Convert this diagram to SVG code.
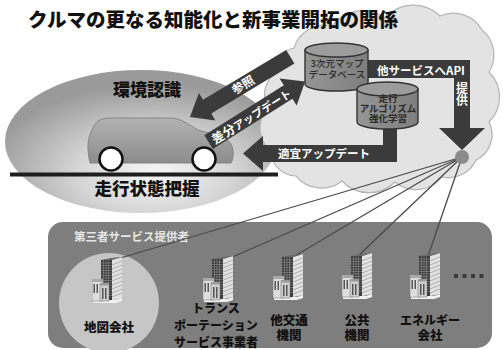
<svg xmlns="http://www.w3.org/2000/svg" width="503" height="350" viewBox="0 0 503 350">
  <defs>
    <style>
      text { font-family: "Noto Sans CJK JP", "Noto Sans CJK SC", sans-serif; }
      .title { font-size: 19.5px; font-weight: 900; fill: #111; }
      .big { font-size: 17px; font-weight: 900; fill: #111; text-anchor: middle; }
      .band { fill: #3b3b3b; }
      .bandtxt { font-size: 11.5px; font-weight: 700; fill: #fff; text-anchor: middle; }
      .cyl { fill: url(#cylBody); stroke: #333; stroke-width: 1.4; }
      .cyltop { fill: #9c9c9c; stroke: #333; stroke-width: 1.4; }
      .cyltxt { font-size: 9.5px; font-weight: 700; fill: #2a2a2a; text-anchor: middle; }
      .lbl { font-size: 12.5px; font-weight: 900; fill: #111; text-anchor: middle; }
      .link { stroke: #4a4a4a; stroke-width: 1.3; fill: none; }
    </style>
    <radialGradient id="envGrad" cx="0.55" cy="0.72" r="0.62">
      <stop offset="0" stop-color="#f6f6f6"/>
      <stop offset="0.45" stop-color="#d6d6d6"/>
      <stop offset="1" stop-color="#9a9a9a"/>
    </radialGradient>
    <linearGradient id="carGrad" x1="0" y1="0" x2="0" y2="1">
      <stop offset="0" stop-color="#b2b2b2"/>
      <stop offset="1" stop-color="#8c8c8c"/>
    </linearGradient>
    <linearGradient id="cylBody" x1="0" y1="0" x2="1" y2="0">
      <stop offset="0" stop-color="#959595"/>
      <stop offset="1" stop-color="#7e7e7e"/>
    </linearGradient>
    <!-- office building icon: glass tower with a low annex in front -->
    <symbol id="bld" viewBox="0 0 30 46" width="30" height="46">
      <path d="M1,43 L24,43 L30,41 L30,44 L24,46 L1,46 Z" fill="#f0f0f0"/>
      <rect x="9" y="3" width="11" height="40" fill="#3a3a3a"/>
      <g stroke="#8f8f8f" stroke-width="0.6">
        <path d="M9,6H20M9,8.5H20M9,11H20M9,13.5H20M9,16H20M9,18.5H20M9,21H20M9,23.5H20M9,26H20M9,28.5H20M9,31H20M9,33.5H20M9,36H20M9,38.5H20"/>
        <path d="M11.5,3V43M14,3V43M16.5,3V43"/>
      </g>
      <path d="M20,3 L30,0 L30,41 L20,43 Z" fill="#e2e2e2"/>
      <g stroke="#8a8a8a" stroke-width="0.6">
        <path d="M20,8 L30,4 M20,12 L30,8 M20,16 L30,12 M20,20 L30,16 M20,24 L30,20 M20,28 L30,24 M20,32 L30,28 M20,36 L30,32 M20,40 L30,36"/>
      </g>
      <path d="M9,3 L19,1 L30,0 L20,3 Z" fill="#6a6a6a"/>
      <rect x="0" y="23" width="11" height="21" fill="#dedede" stroke="#6e6e6e" stroke-width="0.5"/>
      <rect x="0" y="22" width="11" height="3" fill="#a8a8a8"/>
      <rect x="8" y="27" width="9" height="17" fill="#cfcfcf" stroke="#6e6e6e" stroke-width="0.5"/>
      <rect x="8" y="26" width="9" height="2.5" fill="#9a9a9a"/>
      <g fill="#555">
        <rect x="1.5" y="27" width="1.5" height="9"/>
        <rect x="4.5" y="27" width="1.5" height="9"/>
        <rect x="10" y="31" width="1.5" height="11"/>
        <rect x="13" y="31" width="1.5" height="11"/>
      </g>
    </symbol>
  </defs>

  <rect width="503" height="350" fill="#fff"/>

  <!-- vehicle side: environment recognition zone -->
  <g id="vehicle-zone">
    <ellipse cx="141" cy="141.5" rx="136" ry="71.5" fill="url(#envGrad)"/>
  </g>

  <!-- cloud -->
  <g id="cloud">
    <path d="M294,48 A32,32 0 0 1 332,26 A38,38 0 0 1 385,18 A38,38 0 0 1 440,16 A33,33 0 0 1 482,30 A32,32 0 0 1 489,72 A35,35 0 0 1 489,122 A28,28 0 0 1 476,160 A30,30 0 0 1 442,177 A33,33 0 0 1 395,182 A37,37 0 0 1 342,181 A33,33 0 0 1 296,176 A27,27 0 0 1 270,150 A29,29 0 0 1 268,108 A26,26 0 0 1 278,72 A20,20 0 0 1 294,48 Z" fill="#e3e3e3" stroke="#b4b4b4" stroke-width="1.2"/>
  </g>

  <g id="car">
    <line x1="10" y1="174.5" x2="278" y2="174.5" stroke="#1e1e1e" stroke-width="4"/>
    <path d="M90,163 C87,150 87,138 92,130 C95,122 100,118 110,118 L170,118 C180,118 188,124 198,130 C212,134 226,136 231,144 C234,150 234,158 231,163 Z" fill="url(#carGrad)" stroke="#858585" stroke-width="1"/>
    <circle cx="111" cy="159" r="11.5" fill="#fff" stroke="#111" stroke-width="2.5"/>
    <circle cx="204" cy="159" r="11.5" fill="#fff" stroke="#111" stroke-width="2.5"/>
    <text class="big" x="147" y="96">環境認識</text>
    <text class="big" x="147" y="195" style="font-size:17.5px">走行状態把握</text>
  </g>

  <!-- connectors -->
  <g id="connectors">
    <!-- 参照: map DB to vehicle -->
    <g transform="translate(190,117) rotate(-31)">
      <polygon class="band" points="0,0 20,-16 20,-8 117,-8 117,8 20,8 20,16"/>
      <text class="bandtxt" x="62" y="4.2" style="font-size:12px">参照</text>
    </g>
    <!-- 差分アップデート: vehicle to map DB -->
    <g transform="translate(212,140) rotate(-32.2)">
      <polygon class="band" points="-4,-8 90,-8 90,-16 110,0 90,16 90,8 -4,8"/>
      <text class="bandtxt" x="46" y="5.5"><tspan style="font-size:12.5px">差分</tspan><tspan style="font-size:11px">アップデート</tspan></text>
    </g>
    <!-- 適宜アップデート: algorithm to vehicle -->
    <path class="band" d="M383,120 H397 V162 H263 V171 L243,153.5 L263,136 V145 H383 Z"/>
    <text class="bandtxt" x="324" y="157.5">適宜アップデート</text>
    <!-- API provision to third parties -->
    <path class="band" d="M367,60 H470 V128 H485 L462,150 L439,128 H454 V78 H367 Z"/>
    <text class="bandtxt" x="421" y="74.5">他サービスへAPI</text>
    <text class="bandtxt" x="462" y="94" writing-mode="vertical-rl" style="font-size:12px">提供</text>
  </g>

  <g id="map-db">
    <path class="cyl" d="M305,50 V84 A31.5,7 0 0 0 368,84 V50 Z"/>
    <ellipse class="cyltop" cx="336.5" cy="50" rx="31.5" ry="7"/>
    <text class="cyltxt" style="font-weight:500"><tspan x="337" y="67">3次元マップ</tspan><tspan x="337" y="78">データベース</tspan></text>
  </g>

  <g id="algorithm-db">
    <path class="cyl" d="M357,89 V122 A30.5,7 0 0 0 418,122 V89 Z"/>
    <ellipse class="cyltop" cx="387.5" cy="89" rx="30.5" ry="7"/>
    <text class="cyltxt"><tspan x="388" y="101.5">走行</tspan><tspan x="388" y="111.5">アルゴリズム</tspan><tspan x="388" y="121.5">強化学習</tspan></text>
  </g>

  <!-- third-party service providers -->
  <g id="providers">
    <rect x="48" y="222" width="444" height="126" rx="15" fill="#7e7e7e"/>
    <text x="74" y="240.5" style="font-size:11.5px;font-weight:700;fill:#e8e8e8">第三者サービス提供者</text>
  </g>

  <g id="map-company">
    <circle cx="109" cy="303" r="50" fill="#c6c6c6"/>
  </g>

  <g id="links">
    <line class="link" x1="462" y1="157" x2="117" y2="259"/>
    <line class="link" x1="462" y1="157" x2="230" y2="258"/>
    <line class="link" x1="462" y1="157" x2="293" y2="257"/>
    <line class="link" x1="462" y1="157" x2="358" y2="256"/>
    <line class="link" x1="462" y1="157" x2="428" y2="256"/>
  </g>

  <g id="node-map">
    <use href="#bld" x="92" y="257"/>
    <text class="lbl" x="109" y="332">地図会社</text>
  </g>
  <g id="node-transport">
    <use href="#bld" x="203" y="256"/>
    <text class="lbl" style="font-size:12px"><tspan x="216" y="313">トランス</tspan><tspan x="216" y="330">ポーテーション</tspan><tspan x="216" y="347">サービス事業者</tspan></text>
  </g>
  <g id="node-transit">
    <use href="#bld" x="273" y="254"/>
    <text class="lbl"><tspan x="289" y="324.5">他交通</tspan><tspan x="289" y="339.5">機関</tspan></text>
  </g>
  <g id="node-public">
    <use href="#bld" x="342" y="253"/>
    <text class="lbl"><tspan x="357" y="324.5">公共</tspan><tspan x="357" y="339.5">機関</tspan></text>
  </g>
  <g id="node-energy">
    <use href="#bld" x="410" y="253"/>
    <text class="lbl"><tspan x="430" y="324.5" style="font-size:12px">エネルギー</tspan><tspan x="430" y="339.5">会社</tspan></text>
  </g>
  <g id="more" fill="#3a3a3a">
    <rect x="454" y="274" width="4" height="4"/>
    <rect x="462.5" y="274" width="4" height="4"/>
    <rect x="471" y="274" width="4" height="4"/>
    <rect x="479.5" y="274" width="4" height="4"/>
  </g>

  <g id="hub">
    <circle cx="462" cy="157" r="7" fill="#8a8a8a"/>
  </g>

  <text class="title" x="28" y="27">クルマの更なる知能化と新事業開拓の関係</text>
</svg>
